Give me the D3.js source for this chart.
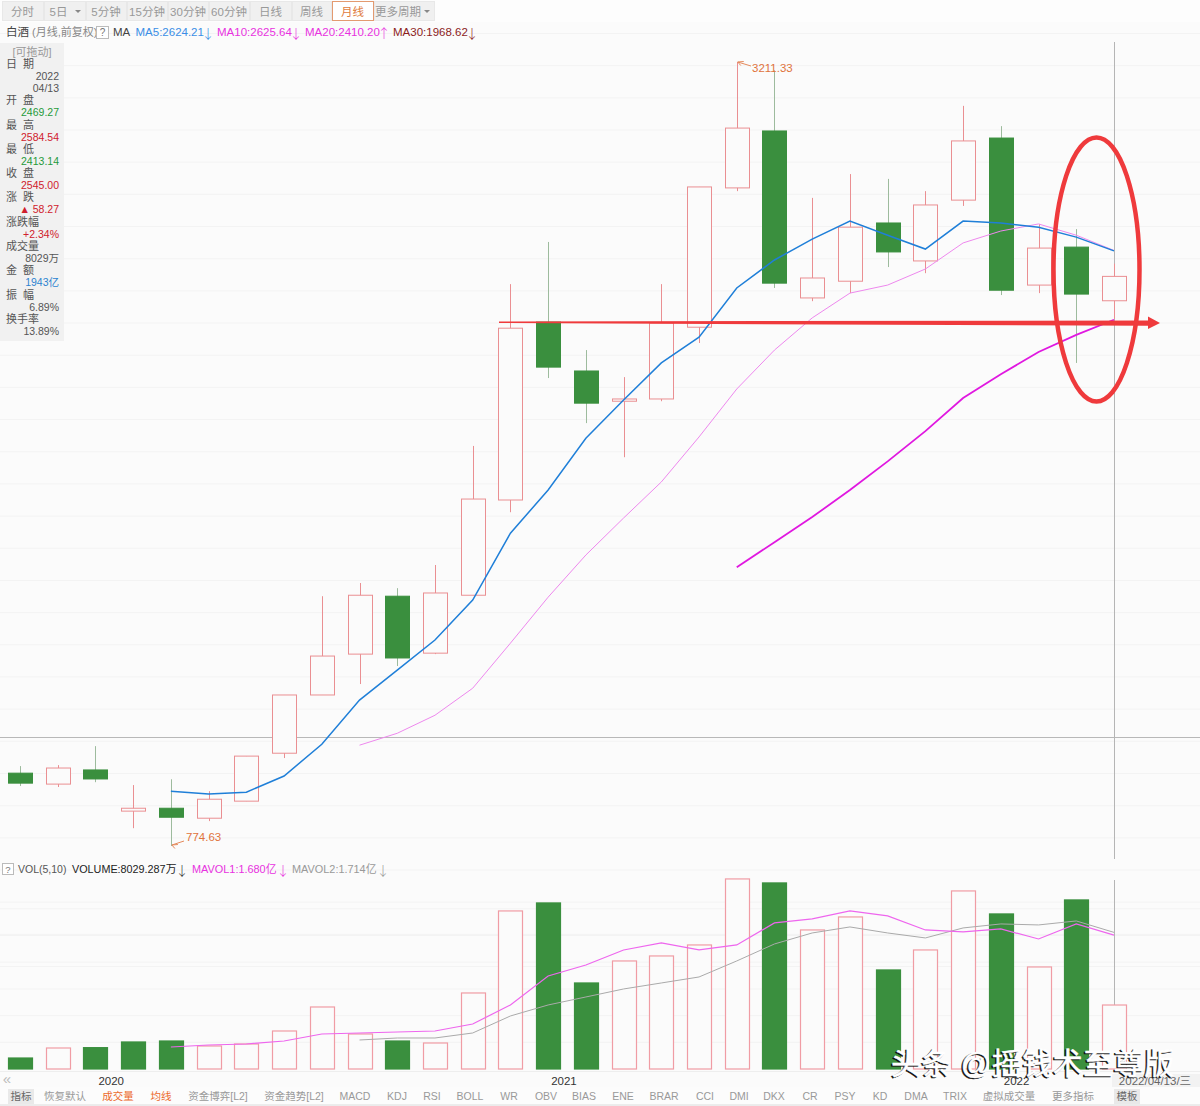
<!DOCTYPE html>
<html><head><meta charset="utf-8">
<script src="https://cdn.jsdelivr.net/npm/d3@7/dist/d3.min.js"></script>
<style>html,body{margin:0;padding:0;background:#fbfbfb}svg{display:block}text{font-family:"Liberation Sans","Noto Sans CJK SC",sans-serif}</style>
</head><body><svg id="c" width="1200" height="1106"></svg>
<script>
const months=["2019-11","2019-12","2020-01","2020-02","2020-03","2020-04","2020-05","2020-06","2020-07","2020-08","2020-09","2020-10","2020-11","2020-12","2021-01","2021-02","2021-03","2021-04","2021-05","2021-06","2021-07","2021-08","2021-09","2021-10","2021-11","2021-12","2022-01","2022-02","2022-03","2022-04"];
const opens=[1001,967,1011,883,892,861,914,1063,1244,1371,1551,1374,1554,1850,2403,2251,2157,2164,2387,2820,2997,2478,2530,2711,2593,2782,2975,2518,2636,2469.27];
const closes=[970,1017,983,892,864,920,1054,1244,1365,1554,1359,1561,1853,2384,2263,2151,2164,2400,2823,3006,2524,2540,2698,2621,2767,2966,2502,2633,2490,2545];
const highs=[1023,1026,1085,964,982,945,1054,1244,1551,1592,1576,1648,2018,2521,2652,2316,2232,2521,2823,3211.33,3186,2789,2863,2848,2810,3075,3012,2708,2692,2584.54];
const lows=[961,958,973,830,774.63,852,914,1048,1244,1278,1334,1371,1554,1812,2229,2089,1983,2157,2338,2810,2509,2468,2493,2574,2555,2764,2487,2493,2276,2413.14];
const ma5=[945,936,942,992,1091,1228,1321,1415,1539,1747,1881,2042,2161,2276,2356,2509,2596,2661,2717,2673,2630,2717,2711,2698,2667,2624.21];
const ma10=[1088,1125,1181,1265,1405,1548,1679,1794,1906,2046,2195,2316,2416,2493,2518,2568,2649,2686,2708,2673,2625.64];
const ma20=[1641,1719,1797,1881,1970,2064,2167,2241,2310,2363,2410.20];
const volumes=[1380,2636,2680,3390,3514,2886,3138,4769,7781,4393,3514,3263,9538,19829,20833,10793,13554,14182,15562,23845,23343,17445,19076,12425,14935,22339,19453,12801,21210,8029.287];
const volumeFalling=[1,0,1,1,1,0,0,0,0,0,1,0,0,0,1,1,0,0,0,0,1,0,0,1,0,0,1,0,1,0];
const mavol1=[2761,3012,3138,3514,4393,4518,4644,4769,5648,8032,11672,13052,14935,15813,14935,15562,18323,18825,19829,19202,17445,17194,17570,16315,18198,16800];
const mavol2=[3640,3891,3891,4518,6652,8032,9036,10040,10793,11546,13554,15688,17068,17821,17068,16441,17696,18198,18072,18574,17140];
const periods=["分时","5日","5分钟","15分钟","30分钟","60分钟","日线","周线","月线","更多周期"];
const indicators=["指标","恢复默认","成交量","均线","资金博弈[L2]","资金趋势[L2]","MACD","KDJ","RSI","BOLL","WR","OBV","BIAS","ENE","BRAR","CCI","DMI","DKX","CR","PSY","KD","DMA","TRIX","虚拟成交量","更多指标","模板"];
const infoLabels=[["[可拖动]","d"],["日  期","l"],["2022","v"],["04/13","v"],["开  盘","l"],["2469.27","g"],["最  高","l"],["2584.54","r"],["最  低","l"],["2413.14","g"],["收  盘","l"],["2545.00","r"],["涨  跌","l"],["▲ 58.27","r"],["涨跌幅","l"],["+2.34%","r"],["成交量","l"],["8029万","v"],["金  额","l"],["1943亿","b"],["振  幅","l"],["6.89%","v"],["换手率","l"],["13.89%","v"]];
const yearLabels=["2020","2021","2022"];
const yearStarts=["2020-01","2021-01","2022-01"];

const UP="#ea8f92",DOWN="#3a8f3e",DOWNW="#9dbb9d",BG="#fbfbfb";
const svg=d3.select("#c");
const x=d3.scalePoint().domain(months).range([20,1114]);
const y=d3.scaleLinear().domain([774.63,3211.33]).range([846,62]);
const yv=d3.scaleLinear().domain([0,8029.287]).range([1069,1005]);
const T=(s,px,py,o={})=>svg.append("text").attr("x",px).attr("y",py).attr("font-size",o.size||11.5).attr("fill",o.fill||"#555").attr("text-anchor",o.anchor||"start").attr("dominant-baseline","central").text(s);
const A=(s,px,py,c)=>T(s,px,py,{fill:c,anchor:"middle",size:13}).style("font-family","'Noto Sans CJK SC'").attr("font-weight",300);

// grids
svg.append("g").selectAll("line").data(d3.range(400,3400,100)).join("line")
 .attr("x1",0).attr("x2",1200).attr("y1",d=>y(d)).attr("y2",d=>y(d)).attr("stroke","#f3f3f3");
svg.append("g").selectAll("line").data(d3.range(1,7).map(i=>i*3350)).join("line")
 .attr("x1",0).attr("x2",1200).attr("y1",d=>yv(d)).attr("y2",d=>yv(d)).attr("stroke","#f3f3f3");

// toolbar
svg.append("rect").attr("x",0).attr("y",0).attr("width",1200).attr("height",22).attr("fill","#fdfdfd");
const bx=[2,44,86,127,168,209,250,292,332,374],bw=[41,41,40,40,40,40,41,39,41,60];
periods.forEach((p,i)=>{const a=i===8,c=(i===1||i===9);
 svg.append("rect").attr("x",bx[i]+.5).attr("y",1.5).attr("width",bw[i]).attr("height",19).attr("fill",a?"#fff":"#f0f0f0").attr("stroke",a?"#e39a70":"#e8e8e8");
 T(p,bx[i]+bw[i]/2-(c?6:0),11.5,{anchor:"middle",fill:a?"#e07b3c":"#999",size:11.5});
 if(c)svg.append("path").attr("d",`M${bx[i]+bw[i]-10},10L${bx[i]+bw[i]-4},10L${bx[i]+bw[i]-7},13Z`).attr("fill","#888");
});
// header legend
T("白酒",6,32,{size:11.5,fill:"#444"});
T("(月线,前复权)",32,32,{size:11,fill:"#888"});
svg.append("rect").attr("x",96.5).attr("y",26.5).attr("width",12).attr("height",12).attr("fill","#fff").attr("stroke","#bbb");
T("?",102.5,32.5,{anchor:"middle",size:10,fill:"#777"});
T("MA",113,32,{size:11.5,fill:"#444"});
T("MA5:2624.21",135.5,32,{fill:"#3a8ee6"});A("↓",208,32,"#3a8ee6");
T("MA10:2625.64",217,32,{fill:"#e832e0"});A("↓",296,32,"#e832e0");
T("MA20:2410.20",305,32,{fill:"#e832e0"});A("↑",384,32,"#e832e0");
T("MA30:1968.62",393,32,{fill:"#8c1c1c"});A("↓",472,32,"#8c1c1c");
// info box
svg.append("rect").attr("x",0).attr("y",43).attr("width",64).attr("height",298).attr("fill","#f1f1f1");
const infoY=[52,64,76,88,100,112,125,137,149,161,173,185,197,209,222,234,246,258,270,282,295,307,319,331];
const cm={v:"#555",g:"#1f9a3a",r:"#d0202c",b:"#2c83d0"};
infoLabels.forEach(([s,k],i)=>{
 if(k==="d")T(s,32,infoY[i],{anchor:"middle",size:11,fill:"#999"});
 else if(k==="l")T(s,6,infoY[i],{size:11,fill:"#555"}).style("white-space","pre");
 else T(s,59,infoY[i],{anchor:"end",size:10.5,fill:cm[k]});
});

// crosshair
svg.append("line").attr("x1",0).attr("x2",1200).attr("y1",737.5).attr("y2",737.5).attr("stroke","#b8b8b8");
svg.append("line").attr("x1",1114.5).attr("x2",1114.5).attr("y1",42).attr("y2",859).attr("stroke","#b5b5b5");
svg.append("line").attr("x1",1114.5).attr("x2",1114.5).attr("y1",880).attr("y2",1069).attr("stroke","#b5b5b5");

// candles
const rows=months.map((m,i)=>({m,o:opens[i],c:closes[i],h:highs[i],l:lows[i],v:volumes[i],up:closes[i]>=opens[i],vf:volumeFalling[i]}));
const W=24;
svg.append("g").selectAll("line").data(rows).join("line")
 .attr("x1",d=>Math.round(x(d.m))+.5).attr("x2",d=>Math.round(x(d.m))+.5)
 .attr("y1",d=>y(d.h)).attr("y2",d=>y(d.l)).attr("stroke",d=>d.up?UP:DOWNW);
svg.append("g").selectAll("rect").data(rows).join("rect")
 .attr("x",d=>Math.round(x(d.m))-W/2+.5).attr("width",W)
 .attr("y",d=>y(Math.max(d.o,d.c))).attr("height",d=>Math.abs(y(d.o)-y(d.c)))
 .attr("fill",d=>d.up?BG:DOWN).attr("stroke",d=>d.up?UP:DOWN);
// MAs
const line=(g,s)=>d3.line().x((d,i)=>x(months[months.length-s.length+i])).y(d=>g(d));
const drawLine=(s,g,c,w)=>svg.append("path").datum(s).attr("d",line(g,s)).attr("fill","none").attr("stroke",c).attr("stroke-width",w);
drawLine(ma10,y,"#ee88ee",1);
drawLine(ma20,y,"#e018e0",1.8);
drawLine(ma5,y,"#1f7fd8",1.5);
// peak labels
const ann=(s,tx,ty,x1,y1,x2,y2)=>{T(s,tx,ty,{fill:"#e0733c",size:11.5});
 svg.append("path").attr("d",`M${x1},${y1}L${x2},${y2}M${x2},${y2}l6,-0.5M${x2},${y2}l3,3.5`).attr("fill","none").attr("stroke","#e58a5c");};
ann("3211.33",752,68,751,66,x(months[19])+1,y(3211.33));
ann("774.63",186,837,184,841,x(months[4])+1,y(774.63)-1);

// volume legend
svg.append("rect").attr("x",2.5).attr("y",863.5).attr("width",11).attr("height",11).attr("fill","#fff").attr("stroke","#bbb");
T("?",8,869.5,{anchor:"middle",size:9.5,fill:"#777"});
T("VOL(5,10)",18,869,{fill:"#555",size:10.5});
T("VOLUME:8029.287万",72,869,{fill:"#222",size:10.8});A("↓",182,869,"#333");
T("MAVOL1:1.680亿",192,869,{fill:"#e832e0",size:10.9});A("↓",283,869,"#e832e0");
T("MAVOL2:1.714亿",292,869,{fill:"#999",size:10.9});A("↓",383,869,"#999");
// volume bars
svg.append("g").selectAll("rect").data(rows).join("rect")
 .attr("x",d=>Math.round(x(d.m))-W/2+.5).attr("width",W)
 .attr("y",d=>yv(d.v)).attr("height",d=>yv(0)-yv(d.v))
 .attr("fill",d=>d.vf?DOWN:BG).attr("stroke",d=>d.vf?DOWN:"#f09ca4").attr("stroke-width",1.2);
drawLine(mavol2,yv,"#aaa",1);
drawLine(mavol1,yv,"#ee66ee",1.2);

// bottom axis
svg.append("line").attr("x1",0).attr("x2",1200).attr("y1",1071.5).attr("y2",1071.5).attr("stroke","#eee");
T("«",7,1078,{size:15,fill:"#bbb",anchor:"middle"});
yearLabels.forEach((s,i)=>T(s,x(yearStarts[i])+3,1081,{size:11.5,fill:"#333"}));
svg.append("rect").attr("x",1112).attr("y",1074).attr("width",88).attr("height",13).attr("fill","#f2f2f2");
T("2022/04/13/三",1155,1080.5,{size:11.5,fill:"#666",anchor:"middle"});

// indicator bar
svg.append("rect").attr("x",0).attr("y",1087).attr("width",1200).attr("height",17).attr("fill","#fcfcfc");
svg.append("line").attr("x1",0).attr("x2",1200).attr("y1",1105).attr("y2",1105).attr("stroke","#dcdcdc");
const ix=[21,65,118,161,218,294,355,397,432,470,509,546,584,623,664,705,739,774,810,845,880,916,955,1009,1073,1127];
indicators.forEach((s,i)=>{
 if(i===0||i===25)svg.append("rect").attr("x",ix[i]-13).attr("y",1089).attr("width",26).attr("height",15).attr("fill","#e9e9e9");
 T(s,ix[i],1096,{anchor:"middle",size:10.5,fill:(i===2||i===3)?"#ec6a2c":(i===0||i===25)?"#666":"#999"});
});

// hand-drawn marks
svg.append("path").attr("d","M499,321.6L1148,320.4L1148,316.5L1160,323L1148,329L1148,325.8L499,323Z").attr("fill","#ef3a3c");
svg.append("ellipse").attr("cx",1096.5).attr("cy",269.5).attr("rx",43).attr("ry",132).attr("fill","none").attr("stroke","#ef3a3c").attr("stroke-width",4.5);

// watermark
const wm=(dx,dy,c,sw)=>svg.append("text").attr("x",891+dx).attr("y",1074+dy).attr("font-size",30).attr("letter-spacing",0.5).attr("fill",c).attr("stroke",c).attr("stroke-width",sw).text("头条 @摇钱术至尊版");
wm(-1.5,1,"#111",0.5);wm(0,0,"#fff",0.5);
</script></body></html>
